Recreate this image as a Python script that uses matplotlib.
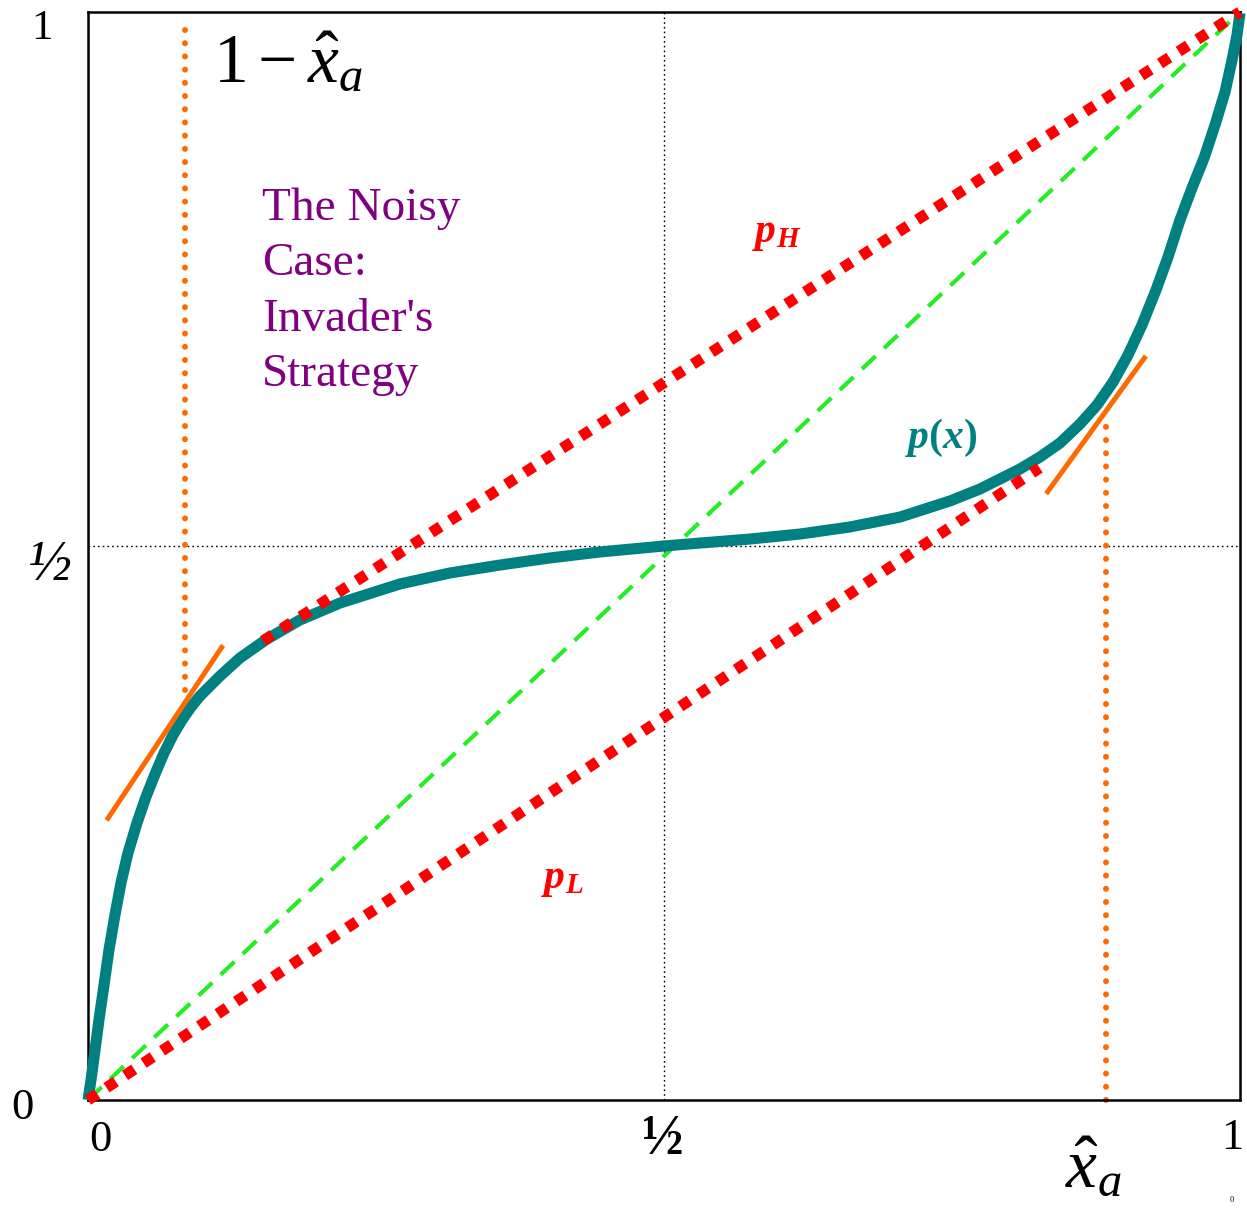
import matplotlib
matplotlib.use("Agg")
import matplotlib.pyplot as plt

plt.rcParams['font.family'] = ['Liberation Serif', 'DejaVu Serif']
plt.rcParams['mathtext.fontset'] = 'custom'
plt.rcParams['mathtext.rm'] = 'Liberation Serif'
plt.rcParams['mathtext.it'] = 'Liberation Serif:italic'
plt.rcParams['mathtext.bf'] = 'Liberation Serif:bold'
plt.rcParams['mathtext.bfit'] = 'Liberation Serif:italic:bold'

# ---- data ----
curve_x = [0.0000, 0.0026, 0.0061, 0.0095, 0.0139, 0.0182, 0.0234, 0.0286,
           0.0347, 0.0425, 0.0503, 0.0582, 0.0660, 0.0738, 0.0816, 0.0894,
           0.0972, 0.1059, 0.1146, 0.1319, 0.1554, 0.1840, 0.2188, 0.2708,
           0.3142, 0.3576, 0.4010, 0.4444, 0.5000, 0.5313, 0.5747, 0.6181,
           0.6615, 0.7049, 0.7483, 0.7743, 0.7917, 0.8090, 0.8264, 0.8438,
           0.8611, 0.8759, 0.8898, 0.9028, 0.9149, 0.9271, 0.9375, 0.9479,
           0.9583, 0.9688, 0.9783, 0.9870, 0.9931, 0.9974, 1.0000]
curve_y = [0.0000, 0.0184, 0.0460, 0.0735, 0.1057, 0.1379, 0.1700, 0.1994,
           0.2270, 0.2546, 0.2785, 0.2996, 0.3189, 0.3355, 0.3493, 0.3612,
           0.3713, 0.3805, 0.3897, 0.4063, 0.4237, 0.4412, 0.4568, 0.4743,
           0.4844, 0.4917, 0.4982, 0.5037, 0.5092, 0.5119, 0.5156, 0.5202,
           0.5267, 0.5358, 0.5506, 0.5616, 0.5708, 0.5800, 0.5910, 0.6039,
           0.6213, 0.6388, 0.6599, 0.6847, 0.7123, 0.7445, 0.7748, 0.8088,
           0.8382, 0.8658, 0.8961, 0.9265, 0.9559, 0.9789, 0.9991]

pH_x = [0.152, 1.0]
pH_y = [0.422, 1.0]
pL_x = [0.0, 0.826]
pL_y = [0.0, 0.581]
diag_x = [0.0, 1.0]
diag_y = [0.0, 1.0]

tan_left_x = [0.0174, 0.116]
tan_left_y = [0.259, 0.416]
tan_right_x = [0.833, 0.917]
tan_right_y = [0.559, 0.682]

vline_left_x = 0.0842
vline_left_y = [0.377, 0.993]
vline_right_x = 0.8837
vline_right_y = [0.0, 0.630]

mid_x = 0.5
mid_y = 0.509

# tick labels: (x, y, text, style, weight, size)
ytick_labels = [(-0.040, 0.985, '1', 'normal', 'normal', 31),
                (-0.033, 0.491, '\u00bd', 'italic', 'normal', 42),
                (-0.057, -0.0074, '0', 'normal', 'normal', 32)]
xtick_labels = [(0.0104, -0.0368, '0', 'normal', 'normal', 32),
                (0.499, -0.0368, '\u00bd', 'normal', 'bold', 40),
                (0.993, -0.035, '1', 'normal', 'normal', 32)]

W, H = 1247, 1208
fig = plt.figure(figsize=(W / 100, H / 100), dpi=100)
ax = fig.add_axes([88 / W, (H - 1100) / H, 1152 / W, 1088 / H])
ax.set_xlim(0, 1)
ax.set_ylim(0, 1)
ax.set_xticks([])
ax.set_yticks([])
for s in ax.spines.values():
    s.set_linewidth(1.8)
    s.set_color('black')

# thin black dotted center lines
ax.axvline(mid_x, color='black', lw=1.0, linestyle=(0, (1.2, 2.2)), zorder=1)
ax.axhline(mid_y, color='black', lw=1.0, linestyle=(0, (1.2, 2.2)), zorder=1)

# green dashed diagonal
ax.plot(diag_x, diag_y, color='#22ee22', lw=3.0, linestyle=(0, (4.5, 2.8)), zorder=2)

# orange dotted verticals
for vx, vy in [(vline_left_x, vline_left_y), (vline_right_x, vline_right_y)]:
    ln, = ax.plot([vx, vx], vy, color='#ff6a00', lw=4.3,
                  linestyle=(0, (0.01, 2.2)), zorder=2, clip_on=False)
    ln.set_dash_capstyle('round')

# teal curve p(x)
ax.plot(curve_x, curve_y, color='#008080', lw=8.0, solid_capstyle='butt',
        solid_joinstyle='round', zorder=3, clip_on=False)

# red dotted p_H and p_L
for xs, ys in [(pH_x, pH_y), (pL_x, pL_y)]:
    ax.plot(xs, ys, color='#ff0000', lw=8.0, linestyle=(0, (1, 1)), zorder=4,
            clip_on=False)

# orange tangents
ax.plot(tan_left_x, tan_left_y, color='#ff6a00', lw=3.6, zorder=5)
ax.plot(tan_right_x, tan_right_y, color='#ff6a00', lw=3.6, zorder=5)

# labels on curves
ax.text(0.576, 0.789, r'$\mathbfit{p}_{\mathbfit{H}}$', color='#ff0000',
        fontsize=30, va='baseline', ha='left')
ax.text(0.393, 0.195, r'$\mathbfit{p}_{\mathbfit{L}}$', color='#ff0000',
        fontsize=30, va='baseline', ha='left')
ax.text(0.709, 0.599, r'$\mathbfit{p}\mathbf{(}\mathbfit{x}\mathbf{)}$', color='#008080',
        fontsize=30, va='baseline', ha='left')

# big math labels
ax.text(0.1085, 0.9357, r'$1-\hat{x}_a$', fontsize=50, va='baseline', ha='left')
ax.text(0.848, -0.080, r'$\hat{x}_a$', fontsize=50, va='baseline', ha='left',
        clip_on=False)

# purple title block
title_lines = ['The Noisy', 'Case:', "Invader's", 'Strategy']
title_base = [0.809, 0.758, 0.707, 0.656]
for t, yb in zip(title_lines, title_base):
    ax.text(0.151, yb, t, color='#800080', fontsize=34, va='baseline', ha='left')

# tick labels
for x, y, t, st, wt, fs in ytick_labels + xtick_labels:
    ax.text(x, y, t, fontsize=fs, style=st, weight=wt, ha='center', va='center',
            clip_on=False)

fig.text(1232 / W, 1 - 1200 / H, '0', fontsize=6, ha='center', va='center')

fig.savefig('out.png', dpi=100)
